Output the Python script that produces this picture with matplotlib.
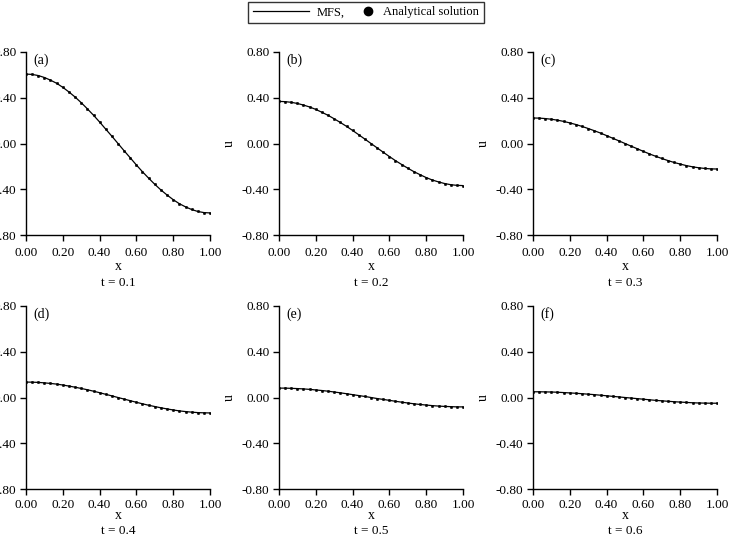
import matplotlib
matplotlib.use("Agg")
import matplotlib.pyplot as plt
from matplotlib.lines import Line2D
from matplotlib.legend_handler import HandlerLine2D

plt.rcParams["font.family"] = ["Liberation Serif", "DejaVu Serif"]

# x nodes (31 points on [0, 1])
x_vals = [0.000, 0.033, 0.067, 0.100, 0.133, 0.167, 0.200, 0.233, 0.267, 0.300,
          0.333, 0.367, 0.400, 0.433, 0.467, 0.500, 0.533, 0.567, 0.600, 0.633,
          0.667, 0.700, 0.733, 0.767, 0.800, 0.833, 0.867, 0.900, 0.933, 0.967, 1.000]

u_a = [0.607, 0.604, 0.594, 0.577, 0.554, 0.526, 0.491, 0.451, 0.406, 0.357,
       0.304, 0.247, 0.188, 0.126, 0.063, 0.000, -0.063, -0.126, -0.188, -0.247,
       -0.304, -0.357, -0.406, -0.451, -0.491, -0.526, -0.554, -0.577, -0.594, -0.604, -0.607]
u_b = [0.368, 0.366, 0.360, 0.350, 0.336, 0.319, 0.298, 0.273, 0.246, 0.216,
       0.184, 0.150, 0.114, 0.077, 0.038, 0.000, -0.038, -0.077, -0.114, -0.150,
       -0.184, -0.216, -0.246, -0.273, -0.298, -0.319, -0.336, -0.350, -0.360, -0.366, -0.368]
u_c = [0.223, 0.222, 0.218, 0.212, 0.204, 0.193, 0.180, 0.166, 0.149, 0.131,
       0.112, 0.091, 0.069, 0.046, 0.023, 0.000, -0.023, -0.046, -0.069, -0.091,
       -0.112, -0.131, -0.149, -0.166, -0.180, -0.193, -0.204, -0.212, -0.218, -0.222, -0.223]
u_d = [0.135, 0.134, 0.132, 0.128, 0.123, 0.117, 0.109, 0.100, 0.090, 0.079,
       0.068, 0.055, 0.042, 0.028, 0.014, 0.000, -0.014, -0.028, -0.042, -0.055,
       -0.068, -0.079, -0.090, -0.100, -0.109, -0.117, -0.123, -0.128, -0.132, -0.134, -0.135]
u_e = [0.082, 0.082, 0.080, 0.078, 0.075, 0.071, 0.066, 0.061, 0.055, 0.048,
       0.041, 0.033, 0.025, 0.017, 0.009, 0.000, -0.009, -0.017, -0.025, -0.033,
       -0.041, -0.048, -0.055, -0.061, -0.066, -0.071, -0.075, -0.078, -0.080, -0.082, -0.082]
u_f = [0.050, 0.050, 0.049, 0.048, 0.046, 0.043, 0.040, 0.037, 0.033, 0.029,
       0.025, 0.020, 0.015, 0.010, 0.005, 0.000, -0.005, -0.010, -0.015, -0.020,
       -0.025, -0.029, -0.033, -0.037, -0.040, -0.043, -0.046, -0.048, -0.049, -0.050, -0.050]

series = [u_a, u_b, u_c, u_d, u_e, u_f]
panel_tags = ["(a)", "(b)", "(c)", "(d)", "(e)", "(f)"]
times = ["t = 0.1", "t = 0.2", "t = 0.3", "t = 0.4", "t = 0.5", "t = 0.6"]
x_ticks = [0.0, 0.2, 0.4, 0.6, 0.8, 1.0]
y_ticks = [-0.8, -0.4, 0.0, 0.4, 0.8]


class DotNearText(HandlerLine2D):
    """Put the single legend marker near the right end of its handle box."""

    def get_xdata(self, legend, xdescent, ydescent, width, height, fontsize):
        m = -xdescent + width - 0.6 * fontsize
        return [m - 1.0, m + 1.0], [m]


W, H = 732, 537
fig = plt.figure(figsize=(W / 100, H / 100), dpi=100)

lefts = [26, 279, 533]
tops = [52, 306]
aw, ah = 184, 183
t_offsets = [48, 42.5]
x_pads = [4.5, 3.0]
x_labelpads = [1.0, -1.5]

for i, (u, tag, tlabel) in enumerate(zip(series, panel_tags, times)):
    row, col = divmod(i, 3)
    left = lefts[col] / W
    bottom = (H - tops[row] - ah) / H
    ax = fig.add_axes([left, bottom, aw / W, ah / H])

    ax.plot(x_vals, u, color="black", lw=0.9)
    ax.plot(x_vals, u, "o", color="black", ms=1.7, mew=0.4)

    ax.set_xlim(0, 1)
    ax.set_ylim(-0.8, 0.8)
    ax.set_xticks(x_ticks)
    ax.set_yticks(y_ticks)
    ax.set_xticklabels([f"{v:.2f}" for v in x_ticks])
    ax.set_yticklabels([f"{v:.2f}" for v in y_ticks])
    ax.tick_params(direction="out", length=4, width=1, labelsize=9.5, pad=3,
                   colors="black")
    ax.tick_params(axis="x", pad=x_pads[row])
    for side in ("top", "right"):
        ax.spines[side].set_visible(False)
    for side in ("left", "bottom"):
        ax.spines[side].set_linewidth(1.0)

    ax.set_xlabel("x", fontsize=10, labelpad=x_labelpads[row])
    ax.set_ylabel("u", fontsize=10, labelpad=4)
    ax.text(0.04, 0.955, tag, transform=ax.transAxes, fontsize=10,
            ha="left", va="center")
    ax.text(0.5, -t_offsets[row] / ah, tlabel, transform=ax.transAxes,
            fontsize=9.5, ha="center", va="center")

line_handle = Line2D([], [], color="black", lw=0.9)
dot_handle = Line2D([], [], color="black", marker="o", ls="none", ms=6)
leg = fig.legend([line_handle, dot_handle], ["MFS,", "Analytical solution"],
                 loc="upper center", bbox_to_anchor=(0.5, 1.0), ncol=2,
                 frameon=True, fancybox=False, fontsize=9, handlelength=4.5,
                 columnspacing=-2.0, handletextpad=0.6, borderpad=0.35,
                 borderaxespad=0.15,
                 handler_map={dot_handle: DotNearText(numpoints=1)})
leg.get_frame().set_edgecolor("black")
leg.get_frame().set_linewidth(1.0)

fig.savefig("out.png", dpi=100)
